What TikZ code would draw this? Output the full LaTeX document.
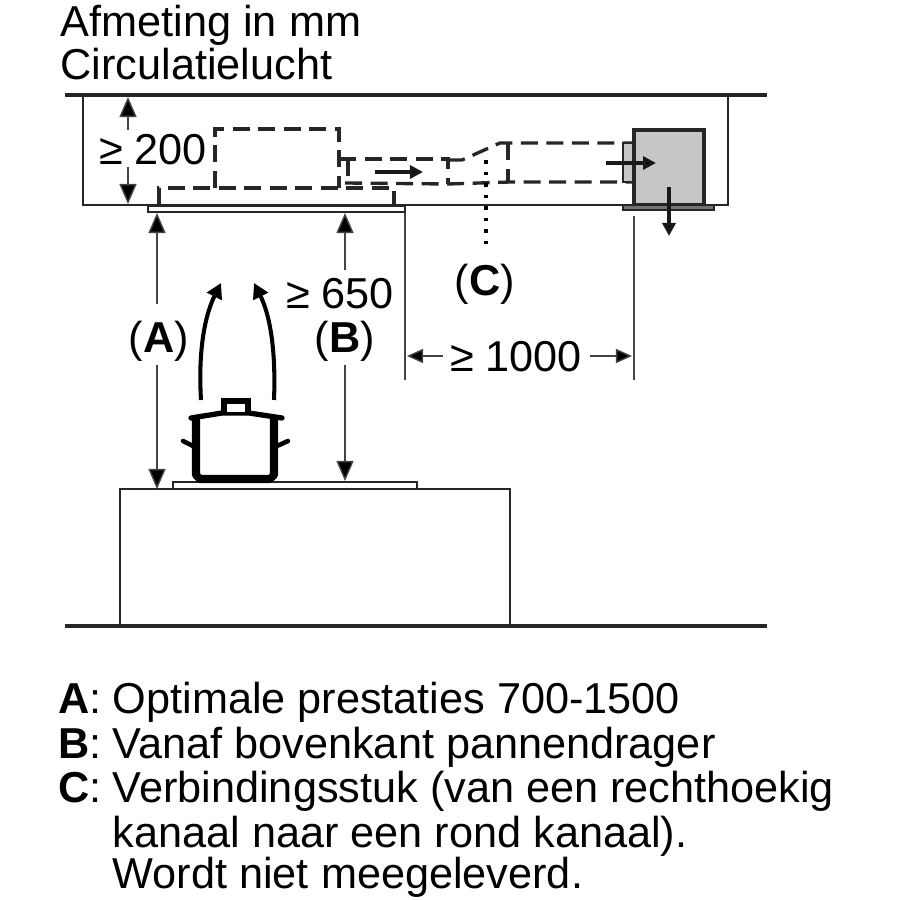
\documentclass[tikz,border=0pt]{standalone}
\usepackage{fontspec}
\setmainfont{Liberation Sans}
\usetikzlibrary{arrows.meta}
\definecolor{boxgray}{HTML}{C6C6C6}
\definecolor{dimgray}{HTML}{444444}
\begin{document}
\begin{tikzpicture}[
  x=0.01cm, y=-0.01cm,
  wall/.style={draw=black!85, line width=0.75pt},
  heavy/.style={draw=black!85, line width=1.1pt},
  duct/.style={draw=black!85, line width=0.95pt, dash pattern=on 1.7mm off 0.85mm},
  dim/.style={draw=dimgray, line width=0.4pt},
  dimarrow/.style={dim, -{Triangle[length=2mm,width=1.7mm,fill=black]}},
  smallarrow/.style={dim, -{Triangle[length=1.6mm,width=1.4mm,fill=black]}},
  flow/.style={draw=black!90, line width=1pt, -{Triangle[length=1.3mm,width=1.3mm,fill=black]}},
  rise/.style={draw=black, line width=1.15pt, -{Triangle[length=1.5mm,width=1.6mm,fill=black]}},
  lbl/.style={inner sep=0pt, font=\fontsize{12.3}{14}\selectfont},
  txt/.style={lbl, anchor=base west}
]
\useasboundingbox (0,0) rectangle (900,900);

\node[txt] (title1) at (60,36) {Afmeting in mm};
\node[txt] (title2) at (60,79) {Circulatielucht};

% ceiling, cabinet, floor
\draw[heavy] (65,95) -- (767,95);
\draw[wall] (83,95) -- (83,205) -- (728,205) -- (728,95);
\draw[heavy] (65,626) -- (767,626);
\draw[wall] (120,626) -- (120,489) -- (510,489) -- (510,626);
\draw[wall, fill=white] (173,482) rectangle (417,489);
\draw[wall, fill=white] (148,206) rectangle (405,212);

% ducts
\draw[duct] (159,205) -- (159,188) -- (394,188) -- (394,205);
\draw[duct] (215,188) -- (215,129) -- (339,129) -- (339,188);
\draw[duct] (339,159) -- (448,159) -- (448,184);
\draw[duct] (348,159) -- (348,184);
\draw[duct] (345,183) -- (448,184) -- (510,182) -- (632,182);
\draw[duct] (448,160) -- (462,160) -- (500,143) -- (632,143);
\draw[duct] (508,143) -- (508,182);

% fan box
\draw[wall, fill=boxgray] (623,143) rectangle (633,182);
\draw[heavy, fill=boxgray] (634,130) rectangle (704,205);
\draw[wall, fill=black!55] (623,205) rectangle (714,210);

\coordinate (ductin) at (375,172);
\coordinate (ductout) at (423,172);
\coordinate (boxin) at (606,163);
\coordinate (boxout) at (656,163);
\coordinate (ventin) at (669,187);
\coordinate (ventout) at (669,236);
\draw[flow] (ductin) -- (ductout);
\draw[flow] (boxin) -- (boxout);
\draw[flow] (ventin) -- (ventout);

% labels
\node[lbl] (h200) at (153,150) {≥ 200};
\node[lbl] (h650) at (340,294) {≥ 650};
\node[lbl] (labA) at (159,341) {(\textbf{A})};
\node[lbl] (labB) at (345,341) {(\textbf{B})};
\node[lbl] (labC) at (485,284) {(\textbf{C})};
\node[lbl] (w1000) at (516,357) {≥ 1000};

% dimensions
\coordinate (ceil) at (128,97);
\coordinate (top200) at (128,130);
\coordinate (bot200) at (128,167);
\coordinate (floor200) at (128,204);
\draw[dimarrow] (top200) -- (ceil);
\draw[dimarrow] (bot200) -- (floor200);

\coordinate (hoodA) at (157,213);
\coordinate (upA) at (157,304);
\coordinate (downA) at (157,365);
\coordinate (hobA) at (157,489);
\draw[dimarrow] (upA) -- (hoodA);
\draw[dimarrow] (downA) -- (hobA);

\coordinate (hoodB) at (345,213);
\coordinate (upB) at (345,270);
\coordinate (downB) at (345,365);
\coordinate (hobB) at (345,481);
\draw[dimarrow] (upB) -- (hoodB);
\draw[dimarrow] (downB) -- (hobB);

\coordinate (extL1) at (405,213);
\coordinate (extL2) at (405,380);
\coordinate (extR1) at (634,216);
\coordinate (extR2) at (634,380);
\draw[dim] (extL1) -- (extL2);
\draw[dim] (extR1) -- (extR2);
\coordinate (tipL) at (407,356);
\coordinate (tipR) at (632,356);
\coordinate (startL) at (443,356);
\coordinate (startR) at (590,356);
\draw[smallarrow] (startL) -- (tipL);
\draw[smallarrow] (startR) -- (tipR);

\coordinate (dotA) at (486,160);
\coordinate (dotB) at (486,252);
\draw[draw=black, line width=1.2pt, dash pattern=on 0.35mm off 0.8mm] (dotA) -- (dotB);

% pot
\draw[draw=black, line width=2.3pt, fill=white, line join=round]
  (196,419) -- (196,475) -- (200,479) -- (270,479) -- (274,475) -- (274,419);
\draw[draw=black, line width=1.5pt, line cap=round] (191,418) -- (222,413) -- (249,413) -- (282,418);
\draw[draw=black, line width=1.5pt, fill=white] (224,412) -- (224,401) -- (248,401) -- (248,412);
\draw[draw=black, line width=1.3pt, line cap=round] (183,441) -- (193,446);
\draw[draw=black, line width=1.3pt, line cap=round] (288,441) -- (277,446);

\coordinate (riseL) at (201,400);
\coordinate (riseLtop) at (221,283);
\coordinate (riseR) at (274,400);
\coordinate (riseRtop) at (254,283);
\draw[rise] (riseL) .. controls (198,350) and (205,315) .. (riseLtop);
\draw[rise] (riseR) .. controls (276,350) and (270,315) .. (riseRtop);

% legend
\node[txt] (keyA) at (58,713) {\textbf{A}:};
\node[txt] (textA) at (112,713) {Optimale prestaties 700-1500};
\node[txt] (keyB) at (58,758) {\textbf{B}:};
\node[txt] (textB) at (112,758) {Vanaf bovenkant pannendrager};
\node[txt] (keyC) at (58,802) {\textbf{C}:};
\node[txt] (textC) at (112,802) {Verbindingsstuk (van een rechthoekig};
\node[txt] (textC2) at (112,847) {kanaal naar een rond kanaal).};
\node[txt] (textC3) at (112,888) {Wordt niet meegeleverd.};
\end{tikzpicture}
\end{document}
